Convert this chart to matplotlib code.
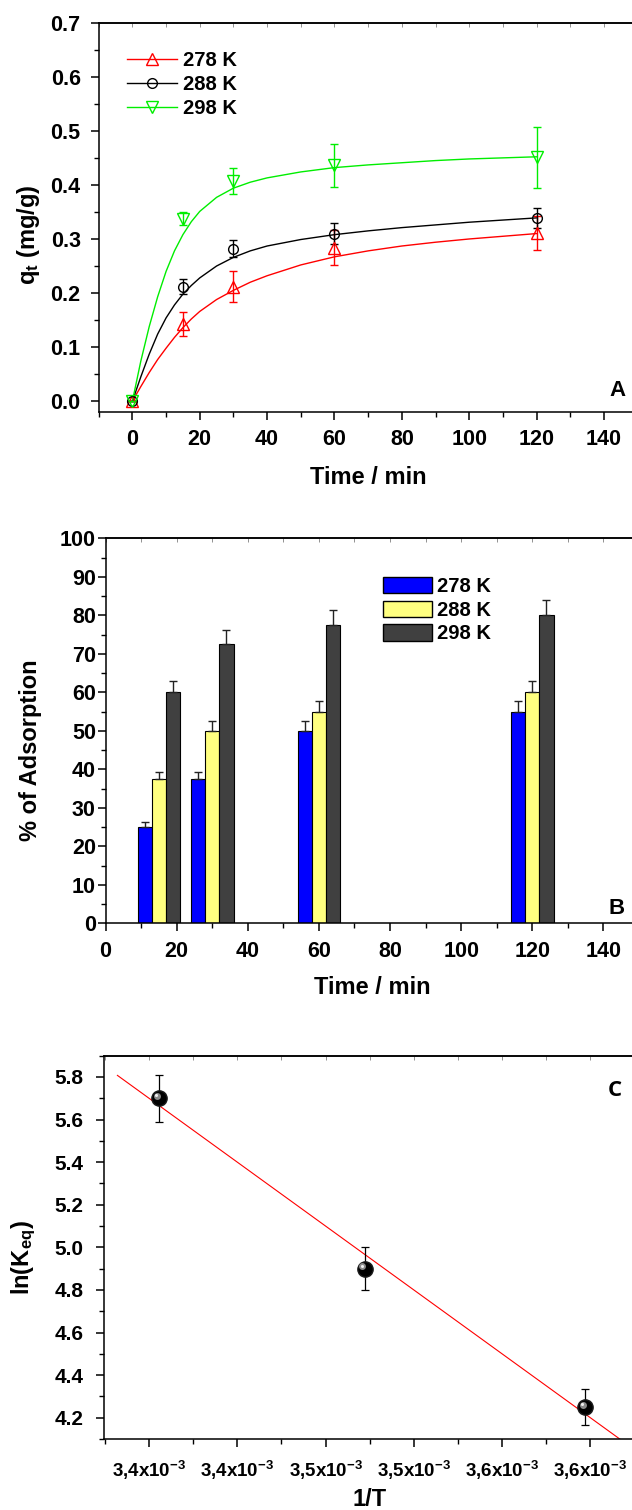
import numpy as np
import matplotlib
matplotlib.use("Agg")
import matplotlib.pyplot as plt
from matplotlib.ticker import MultipleLocator, NullFormatter
from matplotlib.lines import Line2D
from matplotlib.patches import Patch
import matplotlib.transforms as mtransforms

plt.rcParams['font.family'] = ['Liberation Sans', 'DejaVu Sans']
plt.rcParams['font.weight'] = 'bold'
plt.rcParams['mathtext.fontset'] = 'custom'
plt.rcParams['mathtext.rm'] = 'Liberation Sans:bold'
plt.rcParams['mathtext.it'] = 'Liberation Sans:bold'
plt.rcParams['mathtext.bf'] = 'Liberation Sans:bold'

# ---------------- Panel A data ----------------
temps = ["278 K", "288 K", "298 K"]
time_a = [0, 15, 30, 60, 120]
q_278 = [0, 0.143, 0.212, 0.284, 0.311]
q_278_err = [0, 0.022, 0.028, 0.033, 0.032]
q_288 = [0, 0.212, 0.282, 0.310, 0.339]
q_288_err = [0, 0.014, 0.016, 0.019, 0.019]
q_298 = [0, 0.337, 0.407, 0.436, 0.451]
q_298_err = [0, 0.012, 0.024, 0.040, 0.057]

time_fit = [0, 2.5, 5, 7.5, 10, 12.5, 15, 17.5, 20, 25, 30, 35, 40, 50, 60, 70, 80, 90, 100, 110, 120]
fit_278 = [0, 0.027, 0.053, 0.077, 0.098, 0.118, 0.136, 0.152, 0.166, 0.188, 0.205, 0.220, 0.232,
           0.252, 0.267, 0.278, 0.287, 0.294, 0.300, 0.305, 0.310]
fit_288 = [0, 0.045, 0.087, 0.124, 0.154, 0.178, 0.198, 0.214, 0.228, 0.250, 0.266, 0.278, 0.287,
           0.299, 0.308, 0.315, 0.321, 0.326, 0.331, 0.335, 0.339]
fit_298 = [0, 0.074, 0.138, 0.193, 0.240, 0.278, 0.308, 0.332, 0.351, 0.377, 0.394, 0.405, 0.413,
           0.424, 0.432, 0.437, 0.441, 0.445, 0.448, 0.450, 0.452]

# ---------------- Panel B data ----------------
time_b = [15, 30, 60, 120]
ads_278 = [25, 37.5, 50, 55]
ads_288 = [37.5, 50, 55, 60]
ads_298 = [60, 72.5, 77.5, 80]
err_278 = [1.2, 1.8, 2.5, 2.7]
err_288 = [1.8, 2.5, 2.7, 3.0]
err_298 = [3.0, 3.6, 3.8, 4.0]

# ---------------- Panel C data ----------------
temperature_k = [298, 288, 278]
ln_keq = [5.70, 4.90, 4.25]
ln_keq_err = [0.11, 0.10, 0.085]
c_xticks = [3.35e-3, 3.40e-3, 3.45e-3, 3.50e-3, 3.55e-3, 3.60e-3]
c_xticklabels = ["3,4", "3,4", "3,5", "3,5", "3,6", "3,6"]

W, H = 632, 1510
fig = plt.figure(figsize=(W / 100, H / 100), dpi=100)


def rect(l, t, r, b):
    return [l / W, 1 - b / H, (r - l) / W, (b - t) / H]


def style_axes(ax, tick_fs, ypad=7, xpad=6):
    for s in ['left', 'bottom', 'top']:
        ax.spines[s].set_linewidth(1.1)
    ax.spines['right'].set_visible(False)
    ax.tick_params(which='major', direction='out', length=6, width=1.1,
                   labelsize=tick_fs, top=False, right=False)
    ax.tick_params(which='minor', direction='out', length=3.5, width=1.0,
                   top=False, right=False)
    ax.tick_params(axis='y', which='major', pad=ypad)
    ax.tick_params(axis='x', which='major', pad=xpad)
    for lab in ax.get_xticklabels() + ax.get_yticklabels():
        lab.set_fontweight('bold')


def top_ticks(ax, step):
    sec = ax.secondary_xaxis('top')
    sec.xaxis.set_major_locator(MultipleLocator(step))
    sec.xaxis.set_major_formatter(NullFormatter())
    sec.tick_params(direction='in', length=3, width=0.6, color='0.5')
    sec.spines['top'].set_linewidth(1.1)


# ================= Panel A =================
axA = fig.add_axes(rect(98.7, 22.7, 637.6, 412))
colors = ['#FF0000', 'black', '#00EE00']
markers = ['^', 'o', 'v']
msizes = [8, 7, 8]
qs = [q_278, q_288, q_298]
qerrs = [q_278_err, q_288_err, q_298_err]
fits = [fit_278, fit_288, fit_298]
for q, e, f, c, m, ms in zip(qs, qerrs, fits, colors, markers, msizes):
    axA.plot(time_fit, f, color=c, lw=1.0, zorder=2)
    axA.errorbar(time_a, q, yerr=e, fmt=m, ms=ms, mfc='none', mec=c, mew=1.0,
                 ecolor=c, elinewidth=1.0, capsize=3, capthick=1.0, zorder=3)
axA.set_xlim(-10, 150)
axA.set_ylim(-0.02, 0.70)
axA.xaxis.set_major_locator(MultipleLocator(20))
axA.xaxis.set_minor_locator(MultipleLocator(10))
axA.yaxis.set_major_locator(MultipleLocator(0.1))
axA.yaxis.set_minor_locator(MultipleLocator(0.05))
axA.yaxis.set_major_formatter(plt.FuncFormatter(lambda v, p: f"{v:.1f}"))
style_axes(axA, 15.5, ypad=7, xpad=6)
top_ticks(axA, 10)
handlesA = [Line2D([], [], color=c, marker=m, ms=ms, mfc='none', mec=c, lw=1.0)
            for c, m, ms in zip(colors, markers, msizes)]
axA.legend(handlesA, temps, loc='upper left', bbox_to_anchor=(0.052, 0.927),
           frameon=False, handlelength=2.5, handletextpad=0.3, labelspacing=0.25,
           borderpad=0, borderaxespad=0, prop={'weight': 'bold', 'size': 14.5})

# ================= Panel B =================
axB = fig.add_axes(rect(105.6, 538.3, 638.9, 923.3))
bar_w = 4
offsets = [-4, 0, 4]
bar_colors = ['#0000FF', '#FFFF80', '#404040']
vals = [ads_278, ads_288, ads_298]
errs = [err_278, err_288, err_298]
tb = np.array(time_b, dtype=float)
for v, e, c, o in zip(vals, errs, bar_colors, offsets):
    axB.bar(tb + o, v, width=bar_w, color=c, edgecolor='black', linewidth=0.8, zorder=2)
    axB.errorbar(tb + o, v, yerr=[np.zeros(len(e)), e], fmt='none', ecolor='#222222',
                 elinewidth=1.0, capsize=3, capthick=1.0, zorder=3)
axB.set_xlim(0, 150)
axB.set_ylim(0, 100)
axB.xaxis.set_major_locator(MultipleLocator(20))
axB.xaxis.set_minor_locator(MultipleLocator(10))
axB.yaxis.set_major_locator(MultipleLocator(10))
axB.yaxis.set_minor_locator(MultipleLocator(5))
style_axes(axB, 15.5, ypad=1, xpad=7)
top_ticks(axB, 10)
handlesB = [Patch(facecolor=c, edgecolor='black', linewidth=1.0) for c in bar_colors]
axB.legend(handlesB, temps, loc='upper left', bbox_to_anchor=(0.52, 0.9),
           frameon=False, handlelength=2.45, handleheight=0.85, handletextpad=0.25,
           labelspacing=0.24, borderpad=0, borderaxespad=0,
           prop={'weight': 'bold', 'size': 14.5})

# ================= Panel C =================
axC = fig.add_axes(rect(104, 1055.7, 637.8, 1439))
inv_T = 1.0 / np.array(temperature_k, dtype=float)
slope, intercept = np.polyfit(inv_T, ln_keq, 1)
xl = np.array([3.332e-3, 3.62e-3])
axC.plot(xl, slope * xl + intercept, color='#FF0000', lw=0.8, zorder=2)
axC.errorbar(inv_T, ln_keq, yerr=ln_keq_err, fmt='none', ecolor='black',
             elinewidth=0.9, capsize=3, capthick=0.9, zorder=3)
axC.plot(inv_T, ln_keq, 'o', ms=11, mfc='black', mec='#1a1a1a', zorder=4)
off1 = mtransforms.offset_copy(axC.transData, fig=fig, x=-2.5, y=2.5, units='dots')
axC.plot(inv_T, ln_keq, 'o', ms=5, mfc='#8a8a8a', mec='none', transform=off1, zorder=5)
off2 = mtransforms.offset_copy(axC.transData, fig=fig, x=-3, y=3, units='dots')
axC.plot(inv_T, ln_keq, 'o', ms=2.2, mfc='#f0f0f0', mec='none', transform=off2, zorder=6)
axC.set_xlim(3.3244e-3, 3.627e-3)
axC.set_ylim(4.1, 5.9)
axC.set_xticks(c_xticks, [f"{s}x10$^{{-3}}$" for s in c_xticklabels])
axC.xaxis.set_minor_locator(MultipleLocator(0.025e-3))
axC.yaxis.set_major_locator(MultipleLocator(0.2))
axC.yaxis.set_minor_locator(MultipleLocator(0.1))
axC.yaxis.set_major_formatter(plt.FuncFormatter(lambda v, p: f"{v:.1f}"))
style_axes(axC, 15, ypad=9, xpad=8)
for lab in axC.get_xticklabels():
    lab.set_fontsize(13.5)
top_ticks(axC, 0.025e-3)

# ================= Labels =================
lab_kw = dict(fontsize=17, fontweight='bold', ha='center', va='center')
fig.text(29 / W, 1 - 235 / H, "q$_\\mathregular{t}$ (mg/g)", rotation=90, **lab_kw)
fig.text(368 / W, 1 - 477 / H, "Time / min", **lab_kw)
fig.text(30 / W, 1 - 750 / H, "% of Adsorption", rotation=90, **lab_kw)
fig.text(372 / W, 1 - 987 / H, "Time / min", **lab_kw)
fig.text(24 / W, 1 - 1258 / H, "ln(K$_\\mathregular{eq}$)", rotation=90, **lab_kw)
fig.text(370 / W, 1 - 1499 / H, "1/T", **lab_kw)

pan_kw = dict(fontsize=16, fontweight='bold', ha='center', va='center')
fig.text(617 / W, 1 - 391 / H, "A", **pan_kw)
fig.text(617 / W, 1 - 908 / H, "B", **pan_kw)
fig.text(615 / W, 1 - 1090 / H, "C", family=['Open Sans', 'DejaVu Sans'], **pan_kw)

fig.savefig("out.png", dpi=100)
